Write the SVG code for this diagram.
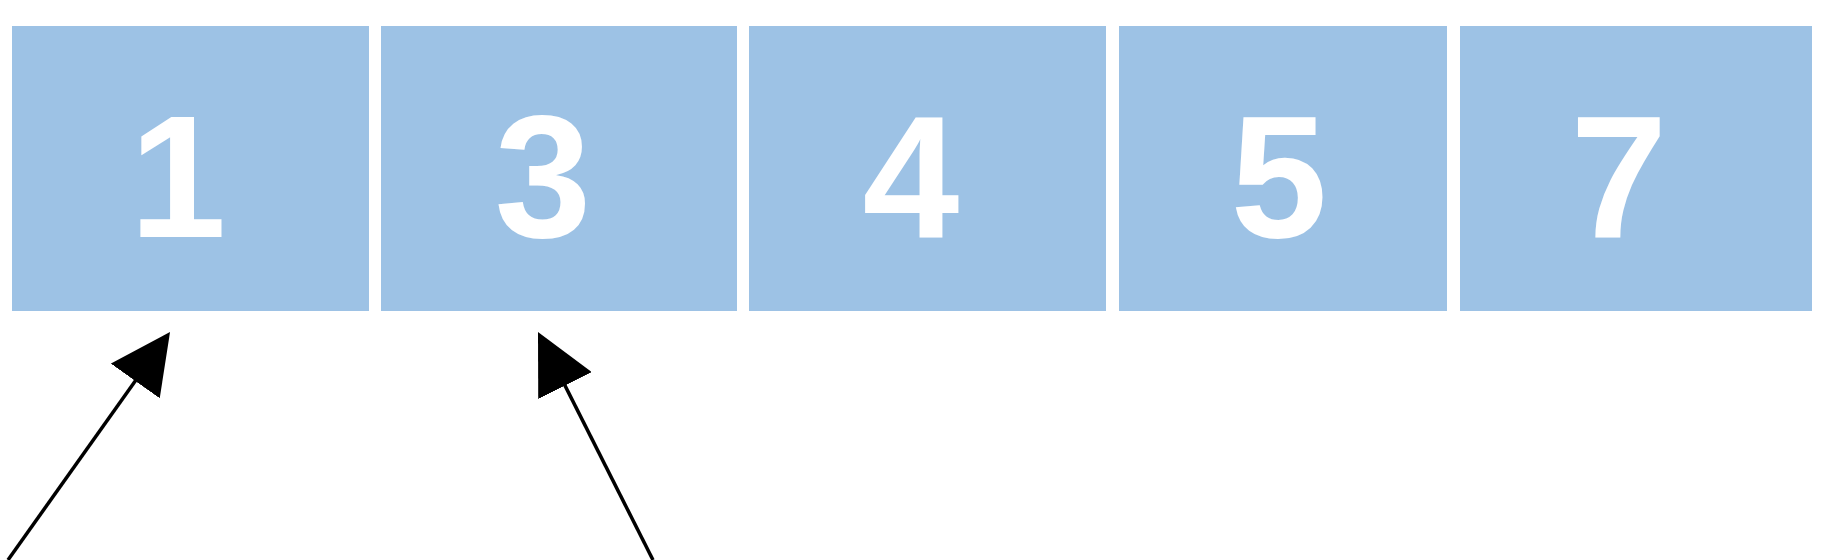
<svg xmlns="http://www.w3.org/2000/svg" width="1839" height="560" viewBox="0 0 1839 560">
<style>
.cell{fill:#9dc2e5;}
.num{fill:#ffffff;font-family:"Liberation Sans",Arial,sans-serif;font-weight:bold;text-anchor:middle;font-size:174px;}
.arrow{stroke:#000000;stroke-width:3.5;fill:none;marker-end:url(#head);}
</style>
<defs>
<marker id="head" viewBox="0 0 10 10" refX="7" refY="5" markerWidth="60" markerHeight="60" markerUnits="userSpaceOnUse" orient="auto">
<path d="M0,0 L10,5 L0,10 Z" fill="#000000"/>
</marker>
</defs>
<rect width="1839" height="560" fill="#ffffff"/>
<g id="node-1"><rect class="cell" x="12" y="26" width="357" height="285"/><text class="num" x="178" y="237">1</text></g>
<g id="node-3"><rect class="cell" x="381" y="26" width="356" height="285"/><text class="num" x="543" y="237">3</text></g>
<g id="node-4"><rect class="cell" x="749" y="26" width="357" height="285"/><text class="num" x="911" y="237">4</text></g>
<g id="node-5"><rect class="cell" x="1119" y="26" width="328" height="285"/><text class="num" x="1279" y="237">5</text></g>
<g id="node-7"><rect class="cell" x="1460" y="26" width="352" height="285"/><text class="num" x="1619" y="237">7</text></g>
<g id="connectors">
<line class="arrow" x1="8" y1="560" x2="159.6" y2="346.7"/>
<line class="arrow" x1="653" y1="560" x2="546.1" y2="348.1"/>
</g>
</svg>
